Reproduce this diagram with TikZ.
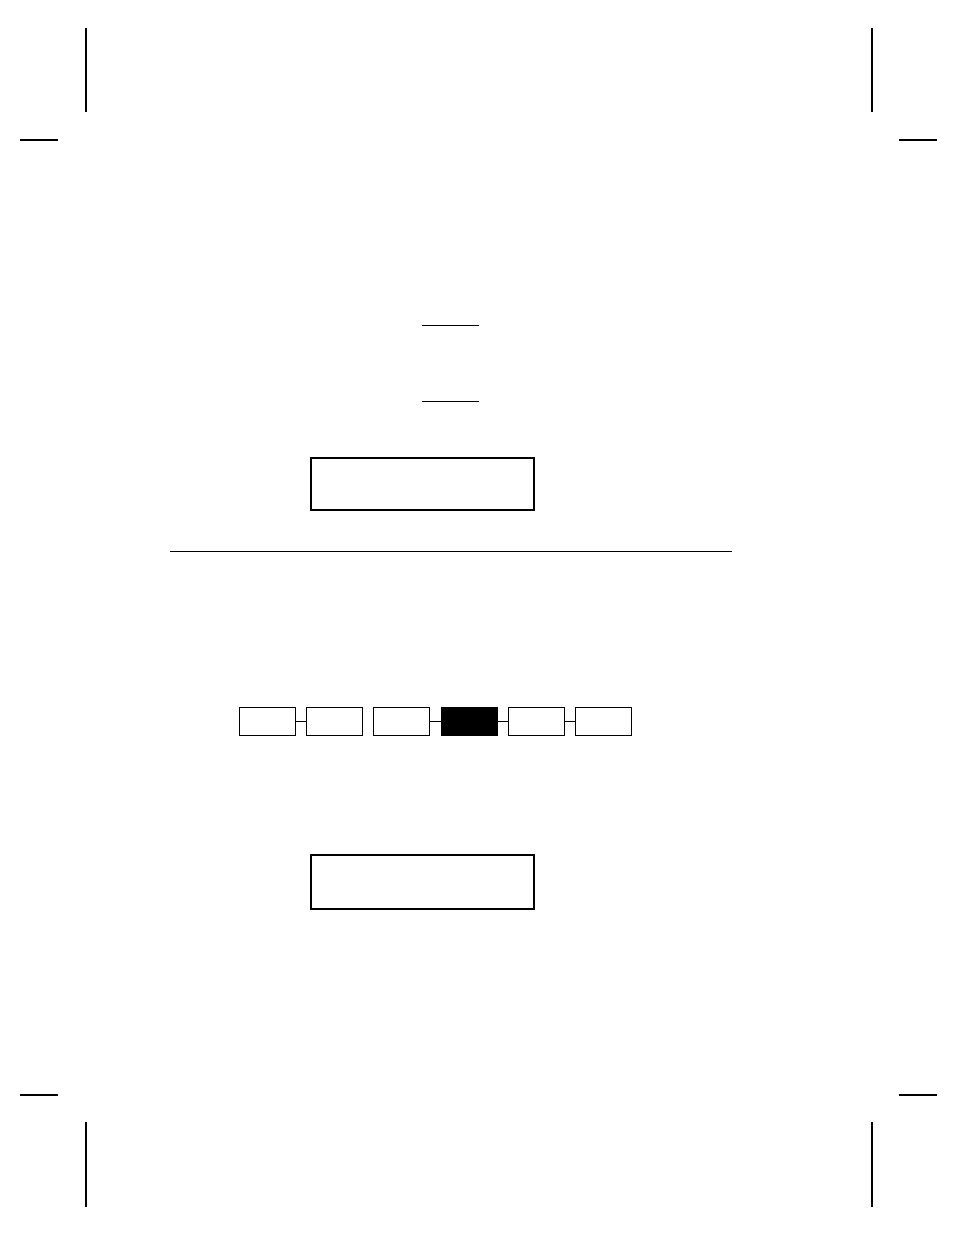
\documentclass[tikz,border=0pt]{standalone}
\usetikzlibrary{positioning}

\begin{document}
\begin{tikzpicture}[x=1pt, y=-1pt,
    cell/.style={draw, line width=0.9pt, minimum width=56.4pt, minimum height=28pt, inner sep=0pt, outer sep=0pt},
    panel/.style={draw, line width=1.4pt, minimum width=223pt, inner sep=0pt, outer sep=0pt}]
    \useasboundingbox (0,0) rectangle (954,1235);

    % crop marks
    \draw[line width=1.2pt] (86,28) -- (86,112);
    \draw[line width=1.6pt] (20,140) -- (58,140);
    \draw[line width=1.2pt] (872,28) -- (872,112);
    \draw[line width=1.6pt] (899,140) -- (937,140);
    \draw[line width=1.6pt] (20,1095) -- (58,1095);
    \draw[line width=1.2pt] (86,1122) -- (86,1207);
    \draw[line width=1.6pt] (899,1095) -- (937,1095);
    \draw[line width=1.2pt] (872,1122) -- (872,1207);

    \draw[line width=1pt] (422,325) -- (479,325);
    \draw[line width=1pt] (422,401) -- (479,401);

    \node[panel, minimum height=52pt] (top) at (422.5,484) {};

    \draw[line width=1pt] (170,551) -- (732,551);

    \node[cell] (b1) at (267.5,721.3) {};
    \node[cell, right = 10.6pt of b1] (b2) {};
    \node[cell, right = 10.6pt of b2] (b3) {};
    \node[cell, fill=black, right = 11.6pt of b3] (b4) {};
    \node[cell, right = 10.3pt of b4] (b5) {};
    \node[cell, right = 10.6pt of b5] (b6) {};

    \draw (b1) -- (b2);
    \draw (b3) -- (b4);
    \draw (b4) -- (b5);
    \draw (b5) -- (b6);

    \node[panel, minimum height=54pt] (bottom) at (422.5,882) {};
\end{tikzpicture}
\end{document}
